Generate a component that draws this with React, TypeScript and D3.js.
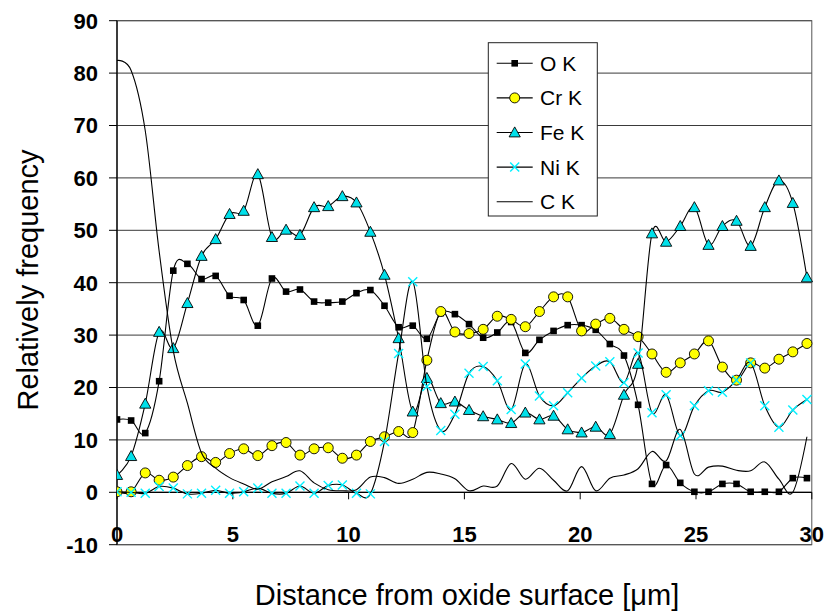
import React from "react";
import * as d3 from "d3";

const distance = [0, 0.61, 1.22, 1.82, 2.43, 3.04, 3.65, 4.26, 4.86, 5.47, 6.08, 6.69, 7.3, 7.9, 8.51, 9.12, 9.73, 10.34, 10.94, 11.55, 12.16, 12.77, 13.38, 13.98, 14.59, 15.2, 15.81, 16.42, 17.02, 17.63, 18.24, 18.85, 19.46, 20.06, 20.67, 21.28, 21.89, 22.5, 23.1, 23.71, 24.32, 24.93, 25.54, 26.14, 26.75, 27.36, 27.97, 28.58, 29.18, 29.79];

const oK = [13.9, 13.7, 11.3, 21.2, 42.3, 43.6, 40.7, 41.3, 37.5, 36.7, 31.8, 40.8, 38.3, 38.7, 36.4, 36.2, 36.4, 38.0, 38.6, 35.6, 31.5, 31.8, 29.3, 34.2, 34.0, 32.1, 29.5, 30.5, 32.5, 26.6, 29.1, 30.8, 31.9, 31.9, 31.0, 28.3, 26.1, 16.7, 1.6, 5.2, 1.8, 0.1, 0.1, 1.6, 1.6, 0.1, 0.1, 0.1, 2.7, 2.7];

const crK = [0.1, 0.1, 3.7, 2.3, 2.9, 5.1, 6.8, 5.7, 7.4, 8.3, 7.0, 8.9, 9.5, 7.1, 8.3, 8.5, 6.5, 7.1, 9.7, 10.6, 11.6, 11.4, 25.2, 34.5, 30.6, 30.3, 31.1, 33.6, 33.0, 31.6, 34.5, 37.3, 37.3, 30.8, 32.1, 33.2, 31.1, 29.7, 26.4, 22.9, 24.7, 26.4, 28.9, 23.9, 21.4, 24.7, 23.7, 25.4, 26.8, 28.4];

const feK = [3.3, 6.9, 16.9, 30.6, 27.5, 36.1, 45.1, 48.3, 53.1, 53.7, 60.7, 48.7, 50.1, 49.1, 54.4, 54.6, 56.5, 55.3, 49.7, 41.5, 29.4, 15.4, 21.8, 17.0, 17.3, 15.7, 14.5, 13.9, 13.2, 15.2, 13.9, 14.6, 12.0, 11.4, 12.5, 11.1, 18.6, 24.5, 49.4, 47.8, 50.8, 54.4, 47.2, 50.8, 51.8, 47.0, 54.4, 59.5, 55.2, 41.0];

const niK = [0.1, 0, -0.2, 1.1, 0.8, -0.3, -0.2, 0.4, -0.2, 0.1, 0.8, -0.2, -0.2, 1.2, -0.2, 1.3, 1.4, -0.2, -0.3, 9.7, 26.5, 40.2, 20.2, 11.8, 14.9, 22.7, 24.0, 21.3, 15.8, 24.5, 18.4, 16.5, 19.0, 21.8, 24.1, 24.9, 20.9, 26.6, 15.2, 18.6, 10.8, 16.5, 19.4, 19.1, 21.4, 24.7, 16.5, 12.4, 15.7, 17.7];

const cK = [82.4, 80.5, 69, 46, 27, 17, 7.5, 4.6, 2.8, 1.6, 0.6, 2.0, 3.0, 4.1, 1.8, 0.5, 0.3, 0.5, 2.9, 2.8, 1.7, 2.5, 3.8, 3.5, 2.6, 0.3, 1.2, 1.2, 5.5, 2.5, 4.6, 2.3, 0.3, 4.9, 0.3, 2.7, 3.3, 4.5, 7.8, 6.0, 12.0, 3.5, 4.8, 5.0, 4.2, 4.1, 5.8, 2.5, 0.0, 10.6];

const seriesNames = ["O K", "Cr K", "Fe K", "Ni K", "C K"];
const yTicks = [-10, 0, 10, 20, 30, 40, 50, 60, 70, 80, 90];
const xTicks = [0, 5, 10, 15, 20, 25, 30];

const W = 826;
const H = 613;
const L = 117;
const R = 811.8;
const T = 20.7;
const B = 544.7;

const FONT = "'Liberation Sans', Arial, sans-serif";
const CYAN_FILL = "#00E0EA";
const CYAN_X = "#00F0FF";

type Kind = "square" | "circle" | "triangle" | "x" | "none";

function Marker({ kind, x, y }: { kind: Kind; x: number; y: number }) {
  if (kind === "square") {
    return <rect x={x - 3.3} y={y - 3.3} width={6.6} height={6.6} fill="#000" />;
  }
  if (kind === "circle") {
    return <circle cx={x} cy={y} r={5} fill="#FFFF00" stroke="#000" strokeWidth={0.9} />;
  }
  if (kind === "triangle") {
    const p = `${x},${y - 5.6} ${x + 5.6},${y + 4.4} ${x - 5.6},${y + 4.4}`;
    return <polygon points={p} fill={CYAN_FILL} stroke="#000" strokeWidth={0.9} />;
  }
  if (kind === "x") {
    return (
      <g stroke={CYAN_X} strokeWidth={1.4}>
        <line x1={x - 4.5} y1={y - 4.5} x2={x + 4.5} y2={y + 4.5} />
        <line x1={x - 4.5} y1={y + 4.5} x2={x + 4.5} y2={y - 4.5} />
      </g>
    );
  }
  return null;
}

export default function App() {
  const xs = d3.scaleLinear().domain([0, 30]).range([L, R]);
  const ys = d3.scaleLinear().domain([-10, 90]).range([B, T]);

  const series: { name: string; values: number[]; kind: Kind }[] = [
    { name: seriesNames[0], values: oK, kind: "square" },
    { name: seriesNames[1], values: crK, kind: "circle" },
    { name: seriesNames[2], values: feK, kind: "triangle" },
    { name: seriesNames[3], values: niK, kind: "x" },
    { name: seriesNames[4], values: cK, kind: "none" },
  ];

  const lineGen = d3
    .line<number>()
    .x((_, i) => xs(distance[i]))
    .y((v) => ys(v))
    .curve(d3.curveCardinal.tension(0));

  const legX = 488.3;
  const legY = 42.7;
  const legW = 109;
  const legH = 173.3;
  const legRowY = (i: number) => legY + 20.6 + i * 34.6;

  return (
    <svg
      width={W}
      height={H}
      style={{ position: "absolute", left: 0, top: 0, background: "#fff" }}
      fontFamily={FONT}
    >
      <defs>
        <clipPath id="plotClip">
          <rect x={L} y={T - 6} width={R - L + 6} height={B - T + 6} />
        </clipPath>
      </defs>
      <rect x={0} y={0} width={W} height={H} fill="#fff" />
      {yTicks.map((t) => (
        <line key={"g" + t} x1={L} x2={R} y1={ys(t)} y2={ys(t)} stroke="#3a3a3a" strokeWidth={1} />
      ))}
      <rect x={L} y={T} width={R - L} height={B - T} fill="none" stroke="#555" strokeWidth={1} />
      <line x1={L} x2={L} y1={T} y2={B} stroke="#000" strokeWidth={1.3} />
      {yTicks.map((t) => (
        <line key={"yt" + t} x1={L - 8} x2={L} y1={ys(t)} y2={ys(t)} stroke="#000" strokeWidth={1} />
      ))}
      {yTicks.map((t) => (
        <text
          key={"yl" + t}
          x={98}
          y={ys(t)}
          dy="0.36em"
          textAnchor="end"
          fontSize={22}
          fontWeight="bold"
          fill="#000"
        >
          {t}
        </text>
      ))}
      <line x1={L} x2={R} y1={ys(0)} y2={ys(0)} stroke="#000" strokeWidth={1.2} />
      {xTicks.map((t) => (
        <line key={"xt" + t} x1={xs(t)} x2={xs(t)} y1={ys(0)} y2={ys(0) + 7} stroke="#000" strokeWidth={1} />
      ))}
      {xTicks.map((t) => (
        <text
          key={"xl" + t}
          x={xs(t)}
          y={541.5}
          textAnchor="middle"
          fontSize={22}
          fontWeight="bold"
          fill="#000"
        >
          {t}
        </text>
      ))}
      <g clipPath="url(#plotClip)">
        {series.map((s) => (
          <g key={s.name}>
            <path d={lineGen(s.values) || ""} fill="none" stroke="#000" strokeWidth={1.1} />
            {s.values.map((v, i) => (
              <Marker key={i} kind={s.kind} x={xs(distance[i])} y={ys(v)} />
            ))}
          </g>
        ))}
      </g>
      <rect x={legX} y={legY} width={legW} height={legH} fill="#fff" stroke="#222" strokeWidth={1} />
      {series.map((s, i) => (
        <g key={"leg" + s.name}>
          <line x1={496.7} x2={532.7} y1={legRowY(i)} y2={legRowY(i)} stroke="#000" strokeWidth={1.1} />
          <Marker kind={s.kind} x={514.7} y={legRowY(i)} />
          <text x={540} y={legRowY(i)} dy="0.36em" fontSize={21} fill="#000">
            {s.name}
          </text>
        </g>
      ))}
      <text
        transform={`translate(38, 280) rotate(-90)`}
        textAnchor="middle"
        fontSize={29}
        fill="#000"
      >
        Relatively frequency
      </text>
      <text x={467} y={605} textAnchor="middle" fontSize={29} fill="#000">
        Distance from oxide surface [μm]
      </text>
    </svg>
  );
}
